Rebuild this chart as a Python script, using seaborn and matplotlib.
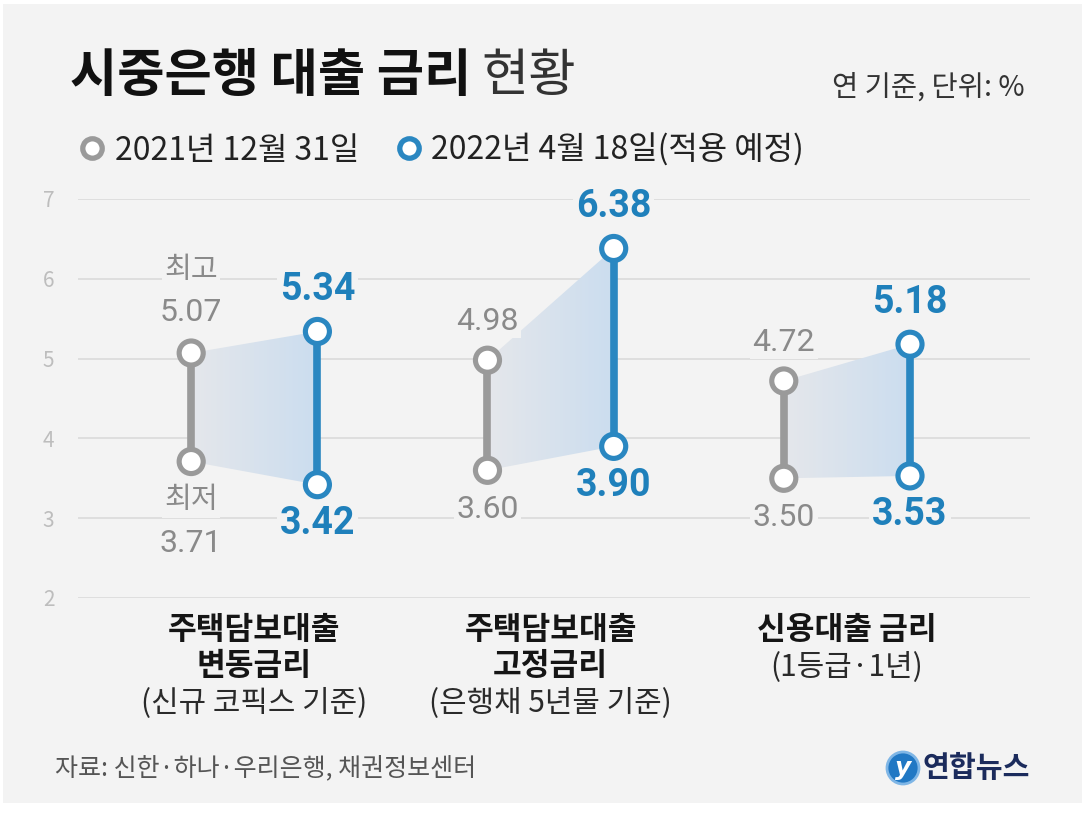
import numpy as np
import pandas as pd
import matplotlib
matplotlib.use('Agg')
import matplotlib.pyplot as plt
import seaborn as sns
from matplotlib.patches import Polygon, Rectangle, Circle
from matplotlib.lines import Line2D
from matplotlib.colors import LinearSegmentedColormap
from matplotlib.transforms import blended_transform_factory, IdentityTransform

# ---------------- data ----------------
categories = ['주택담보대출\n변동금리', '주택담보대출\n고정금리', '신용대출 금리']
notes = ['(신규 코픽스 기준)', '(은행채 5년물 기준)', '(1등급·1년)']
dates = ['2021년 12월 31일', '2022년 4월 18일(적용 예정)']
high_2021 = [5.07, 4.98, 4.72]
low_2021 = [3.71, 3.60, 3.50]
high_2022 = [5.34, 6.38, 5.18]
low_2022 = [3.42, 3.90, 3.53]
yticks = [2, 3, 4, 5, 6, 7]
title_bold = '시중은행 대출 금리'
title_light = '현황'
unit_text = '연 기준, 단위: %'
source_text = '자료: 신한·하나·우리은행, 채권정보센터'
logo_text = '연합뉴스'

# ---------------- style ----------------
BG = '#f3f3f3'
GRAY = '#9a9a9a'
BLUE = '#2a87c1'
BLUE_T = '#1f80bb'
GRAY_T = '#8a8a8a'
offsets = [-0.213, 0.213]
NUMFONT = ['Roboto', 'Noto Sans CJK KR']

sns.set_theme(style='white')
plt.rcParams['font.family'] = ['Noto Sans CJK KR', 'DejaVu Sans']

W, H = 1082, 825
fig = plt.figure(figsize=(W / 100, H / 100), dpi=100, facecolor='white')
fig.add_artist(Rectangle((3 / W, 22 / H), 1.0, 0.969, transform=fig.transFigure,
                         facecolor=BG, edgecolor='none', zorder=0))

ax = fig.add_axes([78 / W, 227 / H, 952 / W, 399 / H])
ax.patch.set_alpha(0)

# long table
rows = []
for i, cat in enumerate(categories):
    for d, (hi, lo) in enumerate([(high_2021, low_2021), (high_2022, low_2022)]):
        rows.append(dict(cat=i, date=dates[d], kind='high', value=hi[i], x=i + offsets[d]))
        rows.append(dict(cat=i, date=dates[d], kind='low', value=lo[i], x=i + offsets[d]))
df = pd.DataFrame(rows)
pal = {dates[0]: GRAY, dates[1]: BLUE}

# gradient bands
cmap = LinearSegmentedColormap.from_list('band', ['#e5e7eb', '#cbddef'])
grad = np.linspace(0, 1, 256).reshape(1, -1)
for i in range(len(categories)):
    xg, xb = i + offsets[0], i + offsets[1]
    verts = [(xg, high_2021[i]), (xb, high_2022[i]), (xb, low_2022[i]), (xg, low_2021[i])]
    poly = Polygon(verts, closed=True, facecolor='none', edgecolor='none')
    ax.add_patch(poly)
    lo = min(low_2021[i], low_2022[i]); hi = max(high_2021[i], high_2022[i])
    im = ax.imshow(grad, cmap=cmap, extent=[xg, xb, lo, hi], aspect='auto', zorder=1,
                   interpolation='bicubic')
    im.set_clip_path(poly)

# vertical range lines
sns.lineplot(data=df, x='x', y='value', hue='date', units='cat', estimator=None,
             palette=pal, linewidth=5.5, sort=False, legend=False, ax=ax, zorder=2)
# markers
sns.scatterplot(data=df, x='x', y='value', hue='date', palette=pal, s=300,
                linewidth=3.7, legend=False, ax=ax, zorder=3)
for coll in ax.collections:
    fc = coll.get_facecolors()
    coll.set_edgecolors(fc)
    coll.set_facecolors('white')
    coll.set_zorder(3)

# value labels
box = dict(boxstyle='square,pad=0.08', fc=BG, ec='none')
for r in df.itertuples():
    up = r.kind == 'high'
    blue = r.date == dates[1]
    if blue:
        ax.annotate(f'{r.value:.2f}', (r.x, r.value), xytext=(0, 30 if up else -28),
                    textcoords='offset points', ha='center', va='center', fontsize=27,
                    fontweight='bold', color=BLUE_T, family=NUMFONT, zorder=4, bbox=box)
    elif r.cat == 0:
        if up:
            ax.annotate(f'{r.value:.2f}', (r.x, r.value), xytext=(0, 29), textcoords='offset points',
                        ha='center', va='center', fontsize=23, color=GRAY_T, family=NUMFONT,
                        zorder=4, bbox=box)
            ax.annotate('최고', (r.x, r.value), xytext=(0, 60), textcoords='offset points',
                        ha='center', va='center', fontsize=21, color=GRAY_T, zorder=4, bbox=box)
        else:
            ax.annotate('최저', (r.x, r.value), xytext=(0, -28), textcoords='offset points',
                        ha='center', va='center', fontsize=21, color=GRAY_T, zorder=4, bbox=box)
            ax.annotate(f'{r.value:.2f}', (r.x, r.value), xytext=(0, -59), textcoords='offset points',
                        ha='center', va='center', fontsize=23, color=GRAY_T, family=NUMFONT,
                        zorder=4, bbox=box)
    else:
        ax.annotate(f'{r.value:.2f}', (r.x, r.value), xytext=(0, 28 if up else -28),
                    textcoords='offset points', ha='center', va='center', fontsize=23,
                    color=GRAY_T, family=NUMFONT, zorder=4, bbox=box)

# axes cosmetics
ax.set_xlim(-0.595, 2.618)
ax.set_ylim(2, 7)
ax.set_yticks(yticks)
ax.set_yticklabels([str(t) for t in yticks])
ax.set_xticks([])
ax.set_xlabel('')
ax.set_ylabel('')
ax.grid(axis='y', color='#dcdcdc', linewidth=1.3)
ax.grid(axis='x', visible=False)
ax.set_axisbelow(True)
for s in ax.spines.values():
    s.set_visible(False)
ax.tick_params(axis='y', left=False, pad=11, labelsize=15, labelcolor='#bdbdbd')

# category labels
bt = blended_transform_factory(ax.transData, fig.transFigure)
for i, (cat, note) in enumerate(zip(categories, notes)):
    lines = cat.split('\n')
    for k, ln in enumerate(lines):
        ax.text(i, 1 - (630 + 36 * k) / H, ln, transform=bt, ha='center', va='center',
                fontsize=22.5, fontweight='bold', color='#151515')
    ax.text(i, 1 - (630 + 37 * len(lines)) / H, note, transform=bt, ha='center', va='center',
            fontsize=21.5, color='#2a2a2a')

# title
t1 = fig.text(70 / W, 1 - 76 / H, title_bold, fontsize=37, fontweight='bold',
              color='#111111', va='center', ha='left')
fig.canvas.draw()
bb = t1.get_window_extent()
fig.text((bb.x1 + 10) / W, 1 - 76 / H, title_light, fontsize=37, fontweight='light',
         color='#333333', va='center', ha='left')
fig.text(1025 / W, 1 - 88 / H, unit_text, fontsize=20.5, color='#333333', ha='right', va='center')

# legend
handles = [Line2D([], [], marker='o', ls='', markerfacecolor='white', markeredgecolor=pal[d],
                  markersize=14, markeredgewidth=3.8) for d in dates]
fig.legend(handles, dates, loc='center left', bbox_to_anchor=(78 / W, 1 - 150 / H), ncol=2,
           frameon=False, fontsize=23, handletextpad=0.25, columnspacing=1.1,
           labelcolor='#222222', borderaxespad=0, borderpad=0, handlelength=0.9)

# source and logo
fig.text(55 / W, 1 - 768 / H, source_text, fontsize=18, color='#555555', va='center', ha='left')
fig.add_artist(Circle((903, H - 768), 16, transform=IdentityTransform(), facecolor='#2178c4',
                      edgecolor='#7fb6e6', linewidth=2))
fig.text(903 / W, 1 - 768 / H, 'y', fontsize=18, fontstyle='italic', fontweight='bold',
         color='white', ha='center', va='center', family=['DejaVu Sans'])
fig.text(922 / W, 1 - 768 / H, logo_text, fontsize=21, fontweight='bold', color='#1b2b5c',
         ha='left', va='center')

fig.savefig('out.png', dpi=100, facecolor='white')
